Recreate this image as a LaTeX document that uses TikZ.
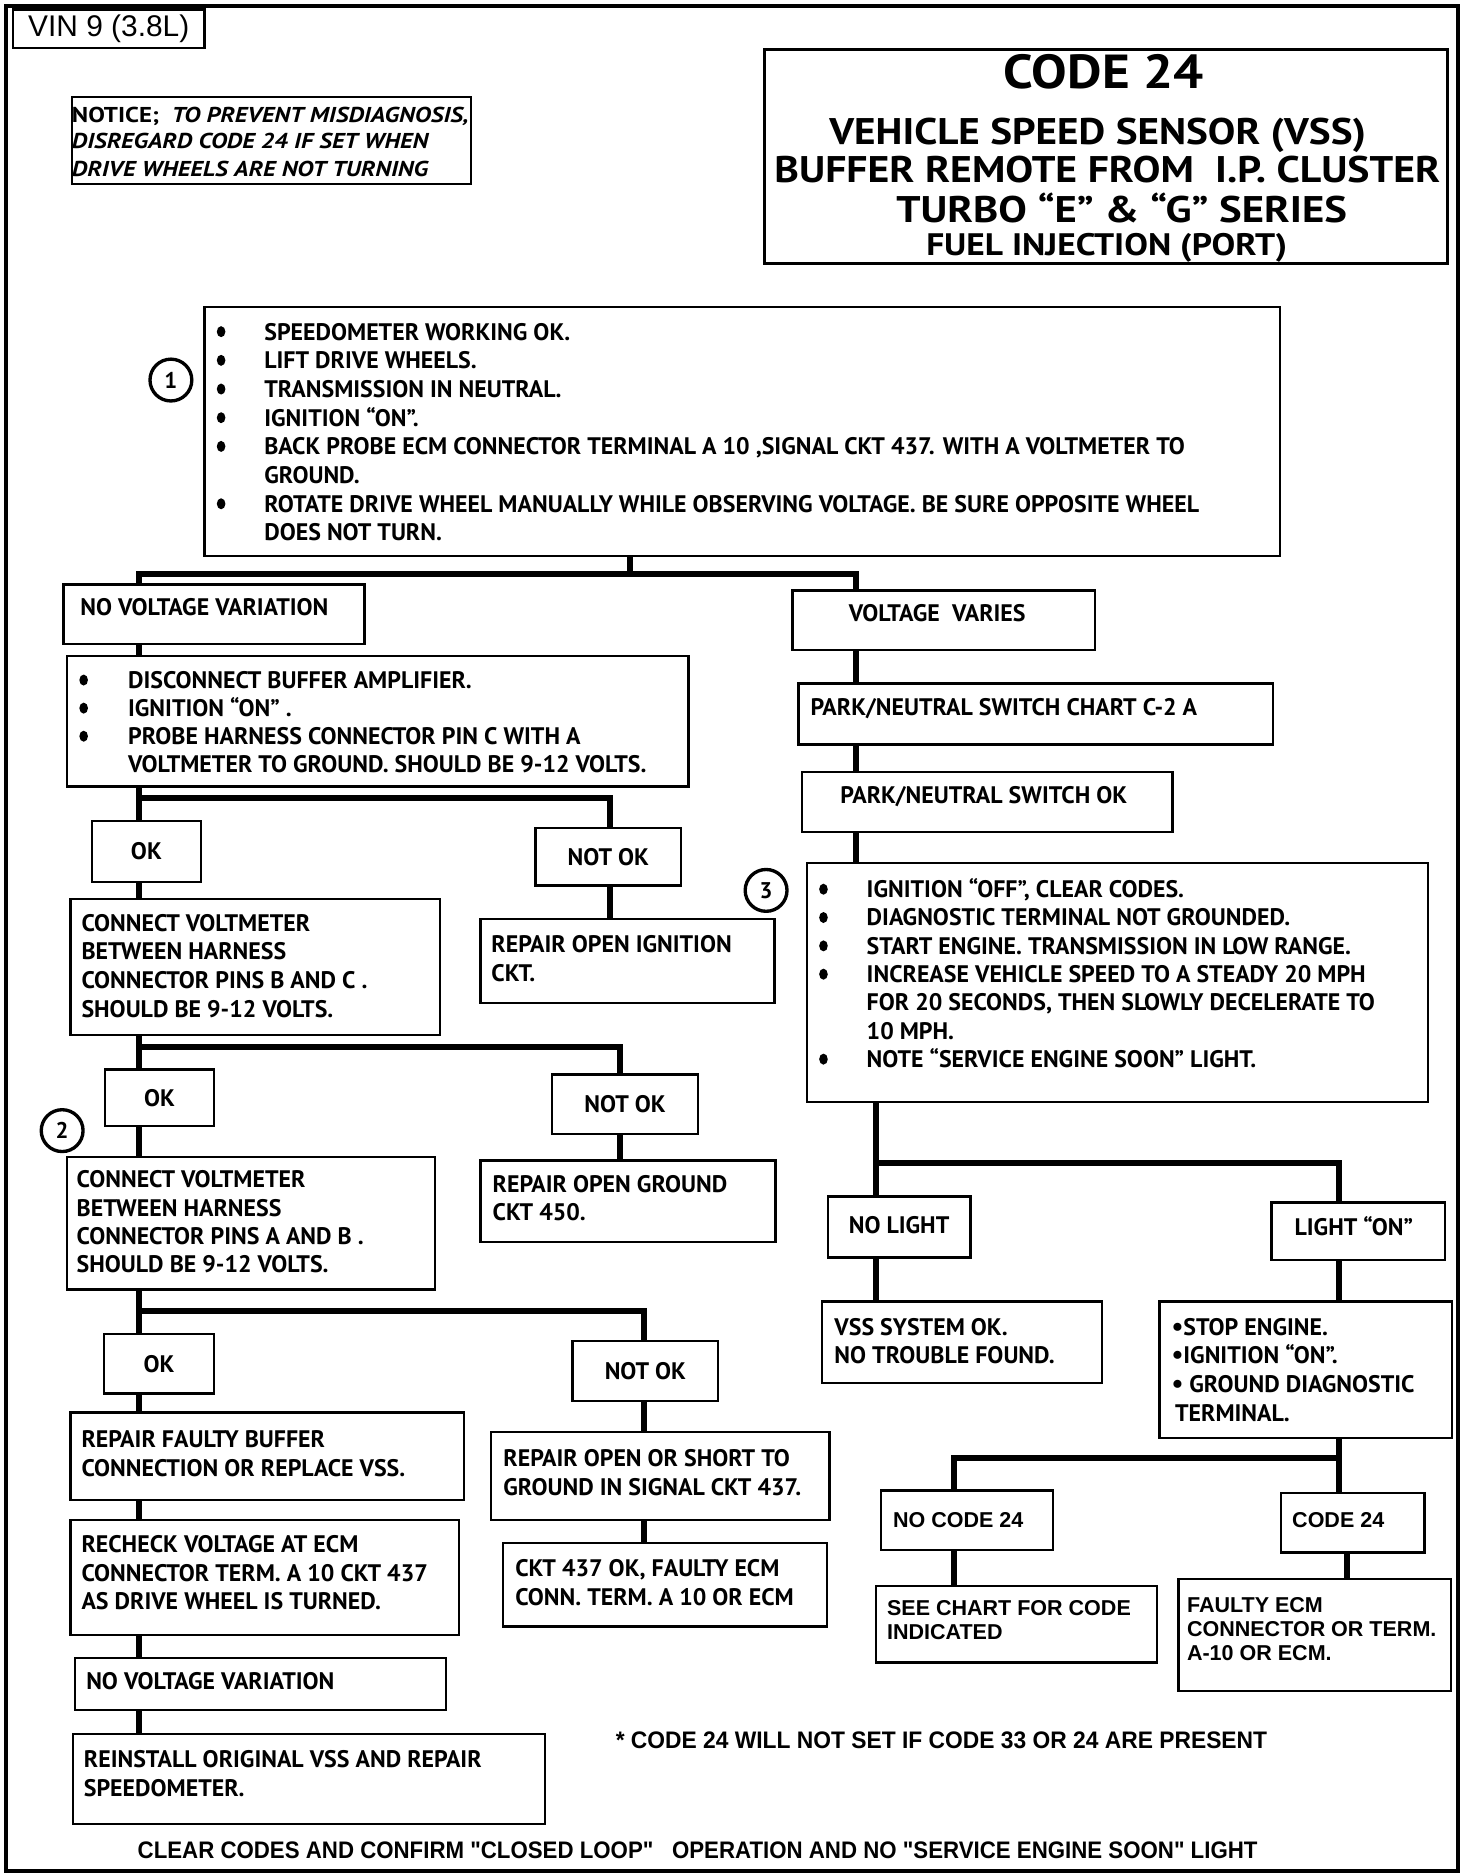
\documentclass[tikz,border=0pt]{standalone}
\usepackage{fontspec}
\usepackage{graphicx}
\newfontfamily\ptsans{PT Sans}
\newfontfamily\arial{Liberation Sans}
\newcommand\bodyfont{\ptsans\bfseries\fontsize{20}{24}\selectfont}
\newcommand\arfont{\arial\bfseries\fontsize{18}{20}\selectfont}
\newcommand\blk[2][24pt]{\vtop{\baselineskip=#1\lineskiplimit=-100pt\lineskip=0pt #2}}
\newcommand\sbul{{\fontsize{22}{24}\selectfont •}}
\newcommand\bline[1]{\hbox{\hskip40pt #1}}
\newcommand\contl[1]{\hbox{\hskip40pt #1}}
\newcommand\pline[1]{\hbox{#1}}
\newcommand\fitw[2]{\resizebox{#1}{\height}{#2}}
\newcommand\bx[6]{\node[box, minimum width={#4-#2}, minimum height={#5-#3}] (#1) at (#2,#3) {#6};}
\begin{document}
\begin{tikzpicture}[x=1pt,y=-1pt,
 box/.style={draw, line width=2pt, inner sep=0pt, anchor=north west, font=\bodyfont},
 conn/.style={line width=5pt, line join=miter},
 txt/.style={anchor=base west, inner sep=0pt, font=\bodyfont},
 atxt/.style={anchor=base west, inner sep=0pt, font=\arfont},
 circ/.style={circle, draw, line width=2.8pt, minimum size=35pt, inner sep=0pt, font=\ptsans\bfseries\fontsize{19}{19}\selectfont},
 ttl/.style={anchor=base, inner sep=0pt},
 bulletdot/.style={fill=black}]
\useasboundingbox (0,0) rectangle (1231.6,1568);
% outer frame
\node[draw, line width=3.5pt, inner sep=0pt, anchor=north west, minimum width=1215pt, minimum height=1561pt] (frame) at (3,3) {};
% header
\node[box, minimum width=160pt, minimum height=32pt, font=\arial\fontsize{25}{25}\selectfont] (vin) at (10,7) {VIN 9 (3.8L)};
\bx{notice}{59}{80}{393}{153}{}
\node[txt, font=\ptsans\bfseries\fontsize{18}{22}\selectfont] (nt1) at (60,102.5) {\fitw{332pt}{NOTICE;\ \ \itshape TO PREVENT MISDIAGNOSIS,}};
\node[txt, font=\ptsans\bfseries\itshape\fontsize{18}{22}\selectfont] (nt2) at (60,124.5) {\fitw{298pt}{DISREGARD CODE 24 IF SET WHEN}};
\node[txt, font=\ptsans\bfseries\itshape\fontsize{18}{22}\selectfont] (nt3) at (60,147.5) {\fitw{298pt}{DRIVE WHEELS ARE NOT TURNING}};
\node[box, line width=2.5pt, minimum width=572pt, minimum height=179pt] (title) at (638,40) {};
\node[ttl, font=\ptsans\bfseries\fontsize{40}{40}\selectfont] (tt1) at (923.5,74) {\fitw{167pt}{CODE 24}};
\node[ttl, font=\ptsans\bfseries\fontsize{31}{31}\selectfont] (tt2) at (918.5,121) {\fitw{449pt}{VEHICLE SPEED SENSOR (VSS)}};
\node[ttl, font=\ptsans\bfseries\fontsize{31}{31}\selectfont] (tt3) at (926.5,153) {\fitw{557pt}{BUFFER REMOTE FROM\ \ I.P. CLUSTER}};
\node[ttl, font=\ptsans\bfseries\fontsize{31}{31}\selectfont] (tt4) at (938.5,186) {\fitw{377pt}{TURBO “E” \& “G” SERIES}};
\node[ttl, font=\ptsans\bfseries\fontsize{26}{26}\selectfont] (tt5) at (926,214) {\fitw{302pt}{FUEL INJECTION (PORT)}};
% step 1
\node[circ] (c1) at (143,318) {1};
\bx{b1}{170}{256}{1070}{464}{}
\node[txt] (t1) at (181,284.5) {\blk{%
\bline{SPEEDOMETER WORKING OK.}%
\bline{LIFT DRIVE WHEELS.}%
\bline{TRANSMISSION IN NEUTRAL.}%
\bline{IGNITION “ON”.}%
\bline{BACK PROBE ECM CONNECTOR TERMINAL A 10 ,SIGNAL CKT 437. WITH A VOLTMETER TO}%
\contl{GROUND.}%
\bline{ROTATE DRIVE WHEEL MANUALLY WHILE OBSERVING VOLTAGE. BE SURE OPPOSITE WHEEL}%
\contl{DOES NOT TURN.}}};
\foreach \yy in {277.5,301.5,325.5,349.5,373.5,421.5} \fill[bulletdot] (185,\yy) ellipse (3.6pt and 4.6pt);
% left column
\bx{nvv1}{52}{488}{304}{538}{}
\node[txt] (tnvv1) at (67,515) {NO VOLTAGE VARIATION};
\bx{b2}{55}{548}{575}{657}{}
\node[txt] (t2) at (67,576) {\blk[23.5pt]{%
\bline{DISCONNECT BUFFER AMPLIFIER.}%
\bline{IGNITION “ON” .}%
\bline{PROBE HARNESS CONNECTOR PIN C WITH A}%
\contl{VOLTMETER TO GROUND. SHOULD BE 9-12 VOLTS.}}};
\foreach \yy in {569,592.5,616} \fill[bulletdot] (70,\yy) ellipse (3.6pt and 4.6pt);
\bx{ok1}{76}{686}{167}{737}{OK}
\bx{nok1}{447}{692}{569}{740}{NOT OK}
\bx{b3}{58}{751}{367}{865}{}
\node[txt] (t3) at (68,779) {\blk{%
\pline{CONNECT VOLTMETER}\pline{BETWEEN HARNESS}\pline{CONNECTOR PINS B AND C .}\pline{SHOULD BE 9-12 VOLTS.}}};
\bx{r1}{401}{768}{647}{838}{}
\node[txt] (tr1) at (411,797) {\blk{\pline{REPAIR OPEN IGNITION}\pline{CKT.}}};
\bx{ok2}{87}{894}{178}{941}{OK}
\bx{nok2}{461}{898}{583}{948}{NOT OK}
\node[circ] (c2) at (52,946) {2};
\bx{b4}{55}{967}{363}{1078}{}
\node[txt] (t4) at (64,994) {\blk[23.5pt]{%
\pline{CONNECT VOLTMETER}\pline{BETWEEN HARNESS}\pline{CONNECTOR PINS A AND B .}\pline{SHOULD BE 9-12 VOLTS.}}};
\bx{r2}{401}{970}{648}{1038}{}
\node[txt] (tr2) at (412,998) {\blk[23pt]{\pline{REPAIR OPEN GROUND}\pline{CKT 450.}}};
\bx{ok3}{86}{1115}{178}{1165}{OK}
\bx{nok3}{478}{1121}{600}{1171}{NOT OK}
\bx{r3}{58}{1181}{387}{1254}{}
\node[txt] (tr3) at (68,1211) {\blk{\pline{REPAIR FAULTY BUFFER}\pline{CONNECTION OR REPLACE VSS.}}};
\bx{r4}{410}{1197}{693}{1271}{}
\node[txt] (tr4) at (421,1227) {\blk{\pline{REPAIR OPEN OR SHORT TO}\pline{GROUND IN SIGNAL CKT 437.}}};
\bx{b5}{58}{1271}{383}{1367}{}
\node[txt] (t5) at (68,1299) {\blk{\pline{RECHECK VOLTAGE AT ECM}\pline{CONNECTOR TERM. A 10 CKT 437}\pline{AS DRIVE WHEEL IS TURNED.}}};
\bx{r5}{420}{1290}{691}{1360}{}
\node[txt] (tr5) at (431,1319) {\blk{\pline{CKT 437 OK, FAULTY ECM}\pline{CONN. TERM. A 10 OR ECM}}};
\bx{nvv2}{62}{1386}{372}{1430}{}
\node[txt] (tnvv2) at (72,1414) {NO VOLTAGE VARIATION};
\bx{b6}{60}{1450}{455}{1525}{}
\node[txt] (t6) at (70,1479) {\blk{\pline{REINSTALL ORIGINAL VSS AND REPAIR}\pline{SPEEDOMETER.}}};
% right column
\bx{vv}{662}{493}{915}{543}{}
\node[txt] (tvv) at (710,520) {VOLTAGE\ \ VARIES};
\bx{pn1}{667}{571}{1064}{622}{}
\node[txt] (tpn1) at (678,599) {PARK/NEUTRAL SWITCH CHART C-2 A};
\bx{pn2}{670}{645}{980}{695}{}
\node[txt] (tpn2) at (703,672) {PARK/NEUTRAL SWITCH OK};
\node[circ] (c3) at (641,745) {3};
\bx{b7}{674}{721}{1194}{921}{}
\node[txt] (t7) at (685,751) {\blk[23.7pt]{%
\bline{IGNITION “OFF”, CLEAR CODES.}%
\bline{DIAGNOSTIC TERMINAL NOT GROUNDED.}%
\bline{START ENGINE. TRANSMISSION IN LOW RANGE.}%
\bline{INCREASE VEHICLE SPEED TO A STEADY 20 MPH}%
\contl{FOR 20 SECONDS, THEN SLOWLY DECELERATE TO}%
\contl{10 MPH.}%
\bline{NOTE “SERVICE ENGINE SOON” LIGHT.}}};
\foreach \yy in {744,767.7,791.4,815.1,886.2} \fill[bulletdot] (689,\yy) ellipse (3.6pt and 4.6pt);
\bx{nl}{692}{1000}{811}{1051}{}
\node[txt] (tnl) at (710,1032) {NO LIGHT};
\bx{lon}{1063}{1005}{1208}{1053}{}
\node[txt] (tlon) at (1083,1034) {LIGHT “ON”};
\bx{vok}{687}{1088}{921}{1156}{}
\node[txt] (tvok) at (698,1117) {\blk{\pline{VSS SYSTEM OK.}\pline{NO TROUBLE FOUND.}}};
\bx{stp}{969}{1088}{1214}{1202}{}
\node[txt] (tstp) at (980,1117) {\blk{\pline{\sbul STOP ENGINE.}\pline{\sbul IGNITION “ON”.}\pline{\sbul\ GROUND DIAGNOSTIC}\pline{\hskip3pt TERMINAL.}}};
\bx{nc}{736}{1246}{880}{1296}{}
\node[atxt] (tnc) at (747,1278) {NO CODE 24};
\bx{c24}{1071}{1248}{1191}{1298}{}
\node[atxt] (tc24) at (1081,1278) {CODE 24};
\bx{sc}{732}{1326}{967}{1390}{}
\node[atxt] (tsc) at (742,1352) {\blk[20pt]{\pline{SEE CHART FOR CODE}\pline{INDICATED}}};
\bx{fe}{985}{1320}{1213}{1414}{}
\node[atxt] (tfe) at (993,1349) {\blk[20pt]{\pline{FAULTY ECM}\pline{CONNECTOR OR TERM.}\pline{A-10 OR ECM.}}};
% notes
\node[anchor=base west, inner sep=0pt, font=\arial\bfseries\fontsize{20}{20}\selectfont] (fn) at (515,1463) {\fitw{545pt}{* CODE 24 WILL NOT SET IF CODE 33 OR 24 ARE PRESENT}};
\node[anchor=base west, inner sep=0pt, font=\arial\bfseries\fontsize{20}{20}\selectfont] (bot) at (115,1555) {\fitw{937pt}{CLEAR CODES AND CONFIRM "CLOSED LOOP"\ \ \ OPERATION AND NO "SERVICE ENGINE SOON" LIGHT}};
% columns and junction levels
\coordinate (xL) at (116,0);
\coordinate (xS) at (527,0);
\coordinate (xR) at (716,0);
\coordinate (xN1) at (510,0);
\coordinate (xN2) at (519,0);
\coordinate (xN3) at (539,0);
\coordinate (xB) at (733,0);
\coordinate (xLo) at (1120,0);
\coordinate (xNc) at (798,0);
\coordinate (xC) at (1127,0);
\coordinate (y1) at (0,480);
\coordinate (y2) at (0,668);
\coordinate (y3) at (0,876);
\coordinate (y4) at (0,1097);
\coordinate (y5) at (0,973);
\coordinate (y6) at (0,1220);
% connectors
\draw[conn] (b1.south -| xS) -- (xS |- y1);
\draw[conn] (nvv1.north -| xL) -- (xL |- y1) -- (xR |- y1) -- (vv.north -| xR);
\draw[conn] (nvv1.south -| xL) -- (b2.north -| xL);
\draw[conn] (b2.south -| xL) -- (ok1.north -| xL);
\draw[conn] (xL |- y2) -- (xN1 |- y2) -- (nok1.north -| xN1);
\draw[conn] (ok1.south -| xL) -- (b3.north -| xL);
\draw[conn] (nok1.south -| xN1) -- (r1.north -| xN1);
\draw[conn] (b3.south -| xL) -- (ok2.north -| xL);
\draw[conn] (xL |- y3) -- (xN2 |- y3) -- (nok2.north -| xN2);
\draw[conn] (ok2.south -| xL) -- (b4.north -| xL);
\draw[conn] (nok2.south -| xN2) -- (r2.north -| xN2);
\draw[conn] (b4.south -| xL) -- (ok3.north -| xL);
\draw[conn] (xL |- y4) -- (xN3 |- y4) -- (nok3.north -| xN3);
\draw[conn] (ok3.south -| xL) -- (r3.north -| xL);
\draw[conn] (r3.south -| xL) -- (b5.north -| xL);
\draw[conn] (b5.south -| xL) -- (nvv2.north -| xL);
\draw[conn] (nvv2.south -| xL) -- (b6.north -| xL);
\draw[conn] (nok3.south -| xN3) -- (r4.north -| xN3);
\draw[conn] (r4.south -| xN3) -- (r5.north -| xN3);
\draw[conn] (vv.south -| xR) -- (pn1.north -| xR);
\draw[conn] (pn1.south -| xR) -- (pn2.north -| xR);
\draw[conn] (pn2.south -| xR) -- (b7.north -| xR);
\draw[conn] (b7.south -| xB) -- (nl.north -| xB);
\draw[conn] (xB |- y5) -- (xLo |- y5) -- (lon.north -| xLo);
\draw[conn] (nl.south -| xB) -- (vok.north -| xB);
\draw[conn] (lon.south -| xLo) -- (stp.north -| xLo);
\draw[conn] (stp.south -| xLo) -- (c24.north -| xLo);
\draw[conn] (nc.north -| xNc) -- (xNc |- y6) -- (xLo |- y6);
\draw[conn] (nc.south -| xNc) -- (sc.north -| xNc);
\draw[conn] (c24.south -| xC) -- (fe.north -| xC);
\end{tikzpicture}
\end{document}
